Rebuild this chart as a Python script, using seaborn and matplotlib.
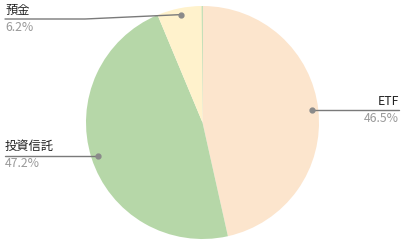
import numpy as np
import matplotlib
matplotlib.use("Agg")
import matplotlib.pyplot as plt
import seaborn as sns

categories = ["ETF", "投資信託", "預金", "その他"]
values = [46.5, 47.2, 6.2, 0.1]
pct_labels = ["46.5%", "47.2%", "6.2%", ""]
colors = ["#fce5cd", "#b6d7a8", "#fff2cc", "#8fce8f"]

sns.set_theme(style="white")
plt.rcParams['font.family'] = ['Noto Sans CJK JP', 'DejaVu Sans']

W, H = 409, 247
fig = plt.figure(figsize=(W / 100, H / 100), dpi=100)
cx, cy, R = 202.5, 122.5, 116.5
ax = fig.add_axes([(cx - R) / W, (H - cy - R) / H, 2 * R / W, 2 * R / H])

ax.pie(values, colors=colors, startangle=90, counterclock=False, radius=1,
       wedgeprops=dict(linewidth=0))
ax.set_xlim(-1, 1)
ax.set_ylim(-1, 1)
ax.set_aspect("equal")
ax.axis("off")

def px2x(px):
    return (px - cx) / R

def py2y(py):
    return (cy - py) / R

total = sum(values)
cum = 0.0
ymax = py2y(19)
for name, v, pl in zip(categories, values, pct_labels):
    mid = (cum + v / 2) / total * 2 * np.pi
    cum += v
    if not pl:
        continue
    dx, dy = np.sin(mid), np.cos(mid)
    r0 = 0.945
    x0, y0 = r0 * dx, r0 * dy
    ly = min(y0, ymax)
    if dx >= 0:
        xend = px2x(399)
        ha = "right"
    else:
        xend = px2x(5)
        ha = "left"
    if abs(ly - y0) > 1e-6:
        xknee = px2x(85)
        xs = [x0, xknee, xend]
        ys = [y0, ly, ly]
    else:
        xs = [x0, xend]
        ys = [y0, ly]
    ax.plot(xs, ys, color="#7a7a7a", lw=1.0, clip_on=False)
    ax.plot([x0], [y0], "o", color="#8a8a8a", ms=3.5, clip_on=False)
    ax.text(xend, ly + 2.5 / R, name, ha=ha, va="bottom", fontsize=8.8,
            color="#222222", clip_on=False)
    ax.text(xend, ly - 1.5 / R, pl, ha=ha, va="top", fontsize=8.8,
            color="#999999", clip_on=False)

fig.savefig("out.png", dpi=100, facecolor="white")
